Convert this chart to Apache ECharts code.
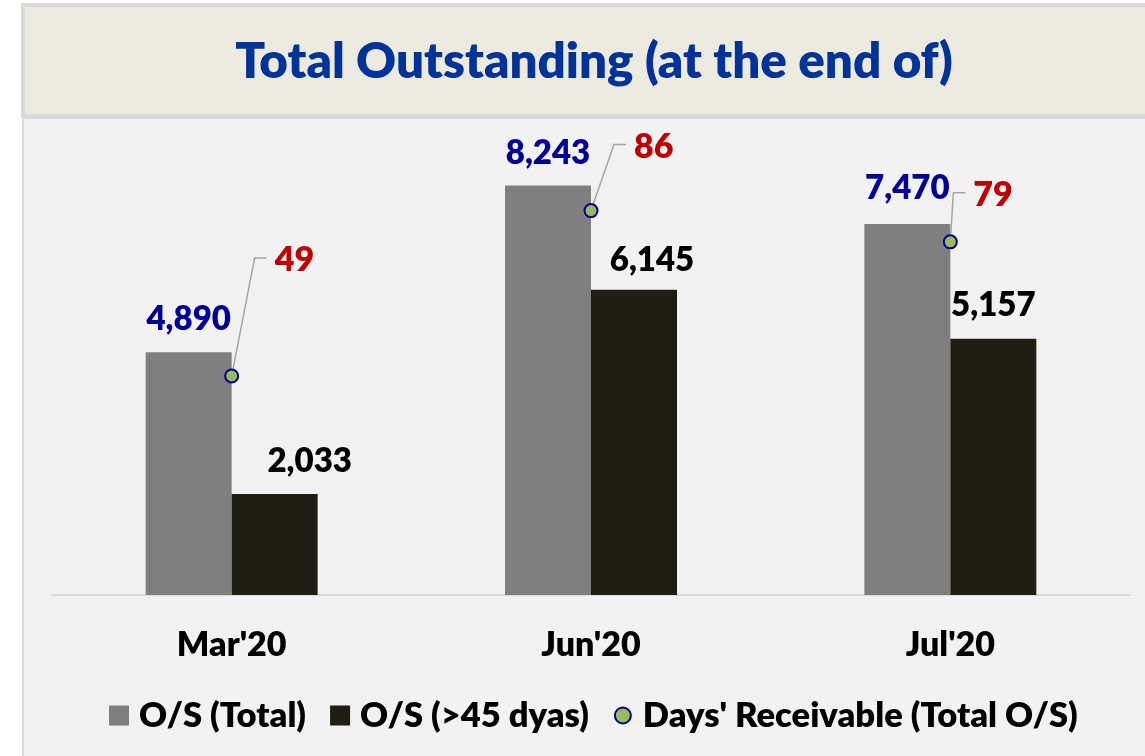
<!DOCTYPE html>
<html>
<head>
    <meta charset="utf-8">
    <title>Total Outstanding</title>
    <script src="https://cdn.jsdelivr.net/npm/echarts@6/dist/echarts.min.js"></script>
    <style>
        html, body { margin: 0; padding: 0; background: #fff; }
        #main { width: 1145px; height: 756px; }
    </style>
</head>
<body>
    <div id="main"></div>

    <script type="text/javascript">
        // data
        var months = ["Mar'20", "Jun'20", "Jul'20"];
        var osTotal = [4890, 8243, 7470];
        var osOver45 = [2033, 6145, 5157];
        var daysReceivable = [49, 86, 79];

        // label nudges (pixels), not data
        var over45LabelOffset = [[35, 0], [18, 3], [0, -1]];
        var totalLabelOffset = [[0, 0], [0, 0], [0, -3]];
        var leaderDx = [23, 23, 3];
        var leaderDy = [-118, -66, -49];

        var FONT = 'Lato';
        var W = 800;
        var fmt = function (p) { return Number(p.value).toLocaleString('en-US'); };

        var chart = echarts.init(document.getElementById('main'));

        chart.setOption({
            backgroundColor: '#ffffff',
            animation: false,
            textStyle: { fontFamily: FONT },
            graphic: [
                {
                    type: 'rect', z: -10,
                    shape: { x: 23, y: 118, width: 1200, height: 700 },
                    style: { fill: '#F2F2F2', stroke: '#D9D9D9', lineWidth: 2 }
                },
                {
                    type: 'rect', z: -9,
                    shape: { x: 23, y: 5, width: 1200, height: 111 },
                    style: { fill: '#EDEBE0', stroke: '#D9D9D9', lineWidth: 4 }
                }
            ],
            title: {
                text: 'Total Outstanding (at the end of)',
                left: 589,
                top: 33,
                textAlign: 'center',
                textStyle: { color: '#003399', fontSize: 49.3, fontWeight: W, fontFamily: FONT }
            },
            legend: {
                left: 104,
                top: 693,
                itemWidth: 20,
                itemHeight: 20,
                itemGap: 24,
                data: [
                    { name: 'O/S (Total)', icon: 'rect' },
                    { name: 'O/S (>45 dyas)', icon: 'rect' },
                    { name: "Days' Receivable (Total O/S)" }
                ],
                textStyle: { color: '#000', fontSize: 34.5, fontWeight: W, fontFamily: FONT, padding: [0, 0, 0, 5] }
            },
            grid: { left: 52, right: 15, top: 148, bottom: 161 },
            xAxis: {
                type: 'category',
                data: months,
                axisLine: { lineStyle: { color: '#D9D9D9', width: 2 } },
                axisTick: { show: false },
                axisLabel: { color: '#000', fontSize: 34, fontWeight: W, fontFamily: FONT, margin: 33 }
            },
            yAxis: [
                { type: 'value', min: 0, max: 9000, show: false, splitLine: { show: false } },
                { type: 'value', min: 0, max: 100, show: false, splitLine: { show: false } }
            ],
            series: [
                {
                    name: 'O/S (Total)',
                    type: 'bar',
                    barWidth: 86,
                    barGap: '0%',
                    itemStyle: { color: '#7F7F7F' },
                    label: {
                        show: true, position: 'top', distance: 16, formatter: fmt,
                        color: '#000099', fontSize: 33, fontWeight: W, fontFamily: FONT
                    },
                    data: osTotal.map(function (v, i) {
                        return { value: v, label: { offset: totalLabelOffset[i] } };
                    })
                },
                {
                    name: 'O/S (>45 dyas)',
                    type: 'bar',
                    barWidth: 86,
                    barGap: '0%',
                    itemStyle: { color: '#201D13' },
                    label: {
                        show: true, position: 'top', distance: 16, formatter: fmt,
                        color: '#000', fontSize: 33, fontWeight: W, fontFamily: FONT
                    },
                    data: osOver45.map(function (v, i) {
                        return { value: v, label: { offset: over45LabelOffset[i] } };
                    })
                },
                {
                    // leader lines and red labels for days receivable
                    name: 'days-labels',
                    type: 'custom',
                    yAxisIndex: 1,
                    z: 3,
                    silent: true,
                    data: daysReceivable.map(function (v, i) { return [i, v]; }),
                    renderItem: function (params, api) {
                        var i = params.dataIndex;
                        var p = api.coord([api.value(0), api.value(1)]);
                        var cx = p[0] + leaderDx[i];
                        var cy = p[1] + leaderDy[i];
                        return {
                            type: 'group',
                            children: [
                                {
                                    type: 'polyline',
                                    shape: { points: [p, [cx, cy], [cx + 12, cy]] },
                                    style: { stroke: '#A6A6A6', lineWidth: 1.5, fill: null }
                                },
                                {
                                    type: 'text',
                                    x: cx + 20,
                                    y: cy + 2,
                                    style: {
                                        text: String(api.value(1)),
                                        fill: '#C00000',
                                        fontSize: 34,
                                        fontWeight: W,
                                        fontFamily: FONT,
                                        align: 'left',
                                        verticalAlign: 'middle'
                                    }
                                }
                            ]
                        };
                    }
                },
                {
                    name: "Days' Receivable (Total O/S)",
                    type: 'line',
                    yAxisIndex: 1,
                    z: 5,
                    symbol: 'circle',
                    symbolSize: 13,
                    lineStyle: { width: 0, opacity: 0 },
                    itemStyle: { color: '#9BBB59', borderColor: '#0000A0', borderWidth: 2 },
                    data: daysReceivable
                }
            ]
        });
    </script>
</body>
</html>
